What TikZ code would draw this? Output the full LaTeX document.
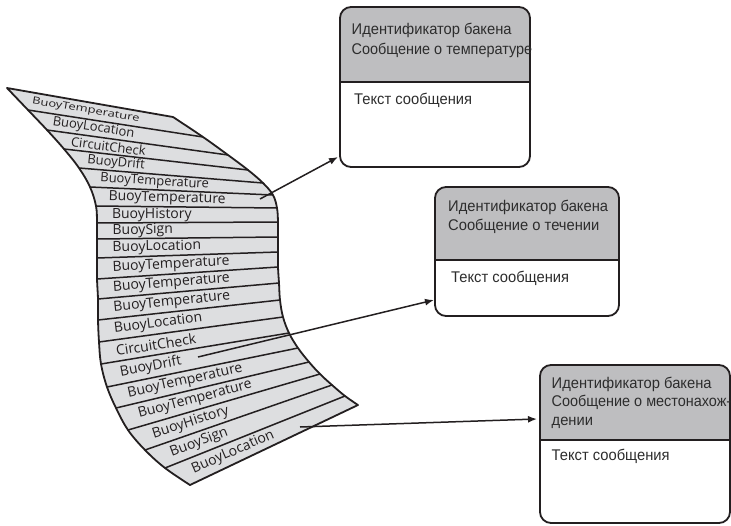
\documentclass[tikz,border=0pt]{standalone}
\usepackage{fontspec}
\setmainfont{Liberation Sans}
\newfontfamily\labfont{Open Sans}
\newfontfamily\boxfont[FakeStretch=0.95]{Liberation Sans}
\usetikzlibrary{arrows.meta,calc}
\definecolor{tapefill}{RGB}{221,222,224}
\definecolor{hdrfill}{RGB}{190,190,192}
\definecolor{ink}{RGB}{35,31,32}
\definecolor{btext}{RGB}{45,45,45}
\begin{document}
\begin{tikzpicture}[x=1pt,y=-1pt,
  tape/.style={fill=tapefill, draw=ink, line width=1.8pt, line join=round},
  sepline/.style={draw=ink, line width=1.5pt},
  lab/.style={font=\labfont\fontsize{14}{14}\selectfont, text=ink, inner sep=0pt},
  labsmall/.style={font=\labfont\fontsize{13}{13}\selectfont},
  boxline/.style={draw=ink, line width=1.8pt, rounded corners=11pt},
  hdr/.style={fill=hdrfill},
  btxt/.style={font=\boxfont\fontsize{15.5}{18}\selectfont, text=btext, inner sep=0pt, anchor=base west},
  arr/.style={draw=ink, line width=1.5pt, -{Latex[length=9pt,width=7pt]}}
]
\useasboundingbox (0,0) rectangle (731,525);

% tape edge points
\foreach \i/\x/\y in {0/7/88,1/28/110,2/47/130,3/64/149,4/79/168,5/90/187,6/96/206,7/97/223,8/97/239,9/97/258,10/97/279,11/98/299,12/98/320,13/99/342,14/101/364,15/107/387,16/116/408,17/128/430,18/145/450,19/165/468,20/190/485}
  \coordinate (L\i) at (\x,\y);
\foreach \i/\x/\y in {0/173/117,1/203/137,2/228/155,3/248/170,4/263/183,5/273/195,6/277/208,7/278/222,8/278/237,9/278/252,10/278/267,11/279/283,12/280/300,13/283/317,14/289/333,15/298/348,16/309/362,17/320/374,18/332/385,19/345/396,20/358/405}
  \coordinate (R\i) at (\x,\y);

\filldraw[tape] plot[smooth, tension=0.6] coordinates {(L0) (L1) (L2) (L3) (L4) (L5) (L6) (L7) (L8) (L9) (L10) (L11) (L12) (L13) (L14) (L15) (L16) (L17) (L18) (L19) (L20)}
  -- plot[smooth, tension=0.6] coordinates {(R20) (R19) (R18) (R17) (R16) (R15) (R14) (R13) (R12) (R11) (R10) (R9) (R8) (R7) (R6) (R5) (R4) (R3) (R2) (R1) (R0)}
  -- cycle;

\foreach \i in {1,...,19} \draw[sepline] (L\i) -- (R\i);

\foreach \i/\t/\st/\s in {1/BuoyTemperature/labsmall/0.75,2/BuoyLocation/labsmall/1,3/CircuitCheck/labsmall/1,4/BuoyDrift/labsmall/1,5/BuoyTemperature/labsmall/1,6/BuoyTemperature/lab/1,7/BuoyHistory/lab/1,8/BuoySign/lab/1,9/BuoyLocation/lab/1,10/BuoyTemperature/lab/1,11/BuoyTemperature/lab/1,12/BuoyTemperature/lab/1,13/BuoyLocation/lab/1,14/CircuitCheck/lab/1,15/BuoyDrift/lab/1,16/BuoyTemperature/lab/1,17/BuoyTemperature/lab/1,18/BuoyHistory/lab/1,19/BuoySign/lab/1,20/BuoyLocation/lab/1}{
  \pgfmathtruncatemacro\j{\i-1}
  \path ($(L\j)!.5!(L\i)$) -- ($(R\j)!.5!(R\i)$) node[lab, \st, pos=0.085, sloped, anchor=west, yscale=\s] (lab\i) {\t};
}

% boxes
\coordinate (b1nw) at (340,7);   \coordinate (b1se) at (530,167); \coordinate (b1s) at (340,82);
\coordinate (b2nw) at (435,187); \coordinate (b2se) at (619,316); \coordinate (b2s) at (435,260);
\coordinate (b3nw) at (540,365); \coordinate (b3se) at (730,523); \coordinate (b3s) at (540,440);

\foreach \b in {1,2,3}{
  \begin{scope}
    \clip[rounded corners=11pt] (b\b nw) rectangle (b\b se);
    \fill[white] (b\b nw) rectangle (b\b se);
    \fill[hdr] (b\b nw) rectangle (b\b s -| b\b se);
  \end{scope}
  \draw[boxline] (b\b nw) rectangle (b\b se);
  \draw[draw=ink, line width=1.8pt] (b\b s) -- (b\b s -| b\b se);
}

\node[btxt] (h11) at (351.5,34.5) {Идентификатор бакена};
\node[btxt, xscale=0.98] (h12) at (351.5,54.5) {Сообщение о температуре};
\node[btxt] (m1)  at (354,104) {Текст сообщения};

\node[btxt] (h21) at (448,211) {Идентификатор бакена};
\node[btxt] (h22) at (448,230) {Сообщение о течении};
\node[btxt] (m2)  at (451,282) {Текст сообщения};

\node[btxt] (h31) at (551.5,388) {Идентификатор бакена};
\node[btxt, xscale=0.98] (h32) at (551.5,406.5) {Сообщение о местонахож-};
\node[btxt] (h33) at (551.5,425) {дении};
\node[btxt] (m3)  at (551.5,460) {Текст сообщения};

% arrows
\coordinate (s1) at (260,199); \coordinate (e1) at (338,157);
\coordinate (s2) at (198,357); \coordinate (e2) at (434,300);
\coordinate (s3) at (300,427); \coordinate (e3) at (537,419);
\draw[arr] (s1) -- (e1);
\draw[arr] (s2) -- (e2);
\draw[arr] (s3) -- (e3);
\end{tikzpicture}
\end{document}
